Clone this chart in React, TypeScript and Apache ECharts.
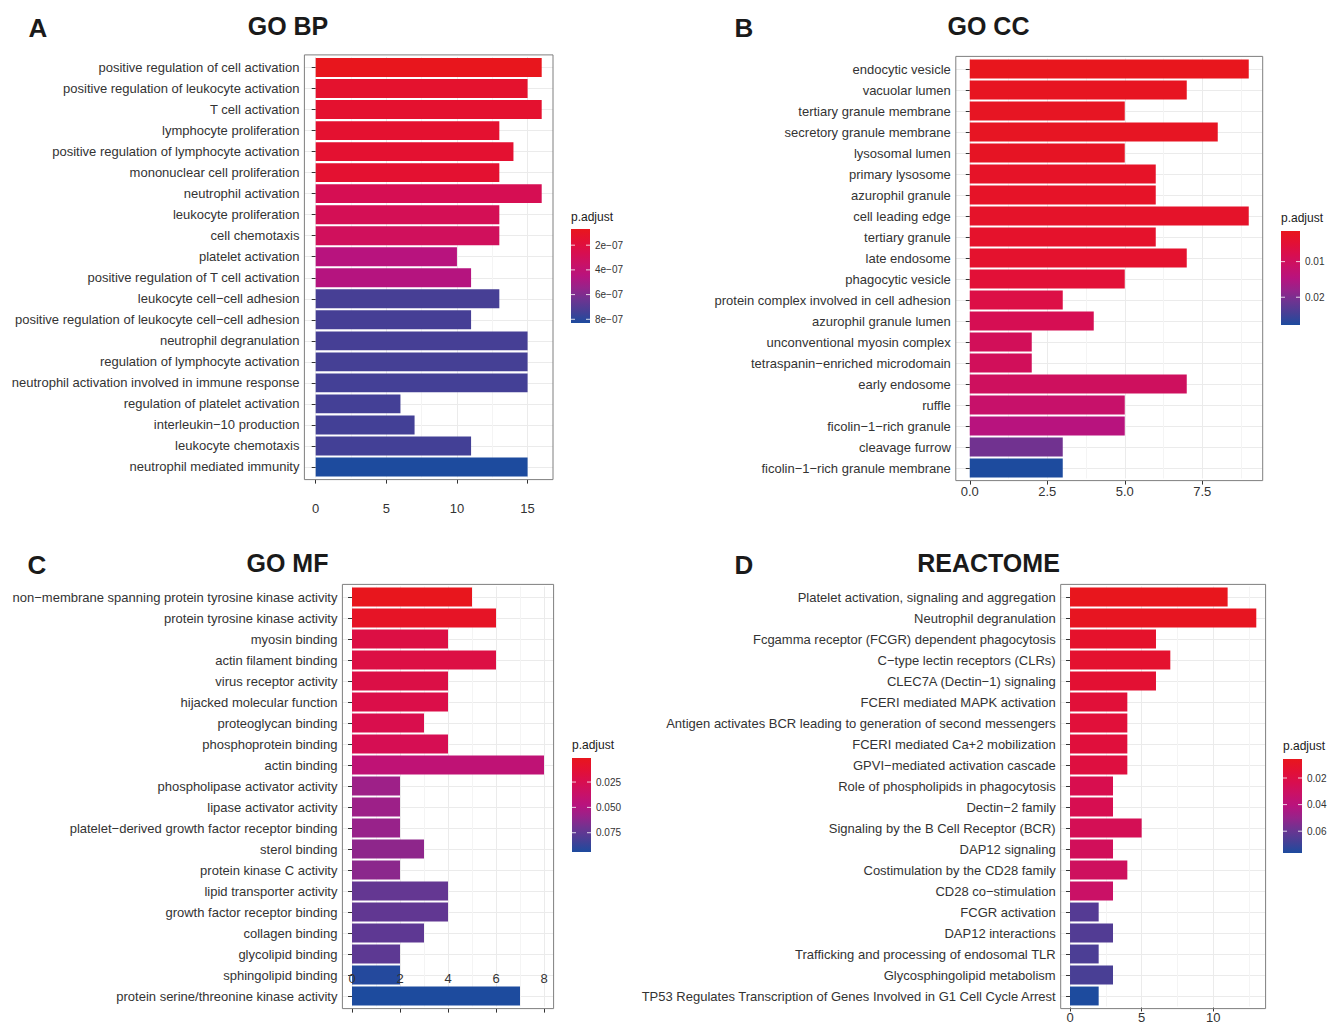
import React, { useEffect, useRef } from "react";
import * as echarts from "echarts";

// ---------- DATA ----------
const bpTerms = [
  "positive regulation of cell activation",
  "positive regulation of leukocyte activation",
  "T cell activation",
  "lymphocyte proliferation",
  "positive regulation of lymphocyte activation",
  "mononuclear cell proliferation",
  "neutrophil activation",
  "leukocyte proliferation",
  "cell chemotaxis",
  "platelet activation",
  "positive regulation of T cell activation",
  "leukocyte cell\u2212cell adhesion",
  "positive regulation of leukocyte cell\u2212cell adhesion",
  "neutrophil degranulation",
  "regulation of lymphocyte activation",
  "neutrophil activation involved in immune response",
  "regulation of platelet activation",
  "interleukin\u221210 production",
  "leukocyte chemotaxis",
  "neutrophil mediated immunity",
];
const bpCounts = [16, 15, 16, 13, 14, 13, 16, 13, 13, 10, 11, 13, 11, 15, 15, 15, 6, 7, 11, 15];
const bpPadj = [
  0.69e-7, 1.4e-7, 1.45e-7, 1.48e-7, 1.5e-7, 1.52e-7, 2.75e-7, 2.82e-7, 3.1e-7, 4.5e-7,
  4.57e-7, 7.35e-7, 7.37e-7, 7.38e-7, 7.4e-7, 7.41e-7, 7.42e-7, 7.43e-7, 7.45e-7, 8.3e-7,
];
const bpXTicks = [0, 5, 10, 15];
const bpXMinor = [2.5, 7.5, 12.5];
const bpLegendTicks = [2e-7, 4e-7, 6e-7, 8e-7];
const bpLegendLabels = ["2e\u221207", "4e\u221207", "6e\u221207", "8e\u221207"];

const ccTerms = [
  "endocytic vesicle",
  "vacuolar lumen",
  "tertiary granule membrane",
  "secretory granule membrane",
  "lysosomal lumen",
  "primary lysosome",
  "azurophil granule",
  "cell leading edge",
  "tertiary granule",
  "late endosome",
  "phagocytic vesicle",
  "protein complex involved in cell adhesion",
  "azurophil granule lumen",
  "unconventional myosin complex",
  "tetraspanin\u2212enriched microdomain",
  "early endosome",
  "ruffle",
  "ficolin\u22121\u2212rich granule",
  "cleavage furrow",
  "ficolin\u22121\u2212rich granule membrane",
];
const ccCounts = [9, 7, 5, 8, 5, 6, 6, 9, 6, 7, 5, 3, 4, 2, 2, 7, 5, 5, 3, 3];
const ccPadj = [
  0.0014, 0.00193, 0.00219, 0.00219, 0.00246, 0.00298, 0.00298, 0.00325, 0.00351, 0.00378,
  0.0051, 0.00694, 0.00853, 0.00932, 0.00958, 0.01011, 0.0117, 0.0146, 0.0209, 0.0278,
];
const ccXTicks = [0, 2.5, 5, 7.5];
const ccXMinor = [1.25, 3.75, 6.25, 8.75];
const ccLegendTicks = [0.01, 0.02];
const ccLegendLabels = ["0.01", "0.02"];

const mfTerms = [
  "non\u2212membrane spanning protein tyrosine kinase activity",
  "protein tyrosine kinase activity",
  "myosin binding",
  "actin filament binding",
  "virus receptor activity",
  "hijacked molecular function",
  "proteoglycan binding",
  "phosphoprotein binding",
  "actin binding",
  "phospholipase activator activity",
  "lipase activator activity",
  "platelet\u2212derived growth factor receptor binding",
  "sterol binding",
  "protein kinase C activity",
  "lipid transporter activity",
  "growth factor receptor binding",
  "collagen binding",
  "glycolipid binding",
  "sphingolipid binding",
  "protein serine/threonine kinase activity",
];
const mfCounts = [5, 6, 4, 6, 4, 4, 3, 4, 8, 2, 2, 2, 3, 2, 4, 4, 3, 2, 2, 7];
const mfPadj = [
  0.0013, 0.0059, 0.0198, 0.0198, 0.0208, 0.0217, 0.0235, 0.0263, 0.043, 0.0569,
  0.057, 0.0588, 0.0616, 0.0625, 0.0736, 0.0745, 0.0755, 0.0756, 0.0921, 0.094,
];
const mfXTicks = [0, 2, 4, 6, 8];
const mfXMinor = [1, 3, 5, 7];
const mfLegendTicks = [0.025, 0.05, 0.075];
const mfLegendLabels = ["0.025", "0.050", "0.075"];

const reTerms = [
  "Platelet activation, signaling and aggregation",
  "Neutrophil degranulation",
  "Fcgamma receptor (FCGR) dependent phagocytosis",
  "C\u2212type lectin receptors (CLRs)",
  "CLEC7A (Dectin\u22121) signaling",
  "FCERI mediated MAPK activation",
  "Antigen activates BCR leading to generation of second messengers",
  "FCERI mediated Ca+2 mobilization",
  "GPVI\u2212mediated activation cascade",
  "Role of phospholipids in phagocytosis",
  "Dectin\u22122 family",
  "Signaling by the B Cell Receptor (BCR)",
  "DAP12 signaling",
  "Costimulation by the CD28 family",
  "CD28 co\u2212stimulation",
  "FCGR activation",
  "DAP12 interactions",
  "Trafficking and processing of endosomal TLR",
  "Glycosphingolipid metabolism",
  "TP53 Regulates Transcription of Genes Involved in G1 Cell Cycle Arrest",
];
const reCounts = [11, 13, 6, 7, 6, 4, 4, 4, 4, 3, 3, 5, 3, 4, 3, 2, 3, 2, 3, 2];
const rePadj = [
  0.0057, 0.0071, 0.0114, 0.0128, 0.0142, 0.0163, 0.0164, 0.017, 0.0184, 0.0234,
  0.0241, 0.0255, 0.0276, 0.029, 0.0319, 0.0644, 0.0651, 0.0665, 0.0672, 0.0764,
];
const reXTicks = [0, 5, 10];
const reXMinor = [2.5, 7.5, 12.5];
const reLegendTicks = [0.02, 0.04, 0.06];
const reLegendLabels = ["0.02", "0.04", "0.06"];

const panelTitles = ["GO BP", "GO CC", "GO MF", "REACTOME"];
const panelLetters = ["A", "B", "C", "D"];
const legendTitle = "p.adjust";

// ---------- STYLE / LAYOUT ----------
const PALETTE = ["#E8161D", "#E31034", "#D80E4F", "#C91167", "#B8137E", "#97238A", "#6D3491", "#473F95", "#1D4B9E"];
const FONT = '"Liberation Sans", Arial, Helvetica, sans-serif';
const TXT = "#333333";

const layout = [
  { left: 304.4, right: 553, top: 54.9, bottom: 479.6, labelMargin: 22, titleX: 288, titleY: 26, letterX: 38, letterY: 28, legX: 571, legTop: 229, legBottom: 323, legTitleY: 217 },
  { left: 955.8, right: 1262.7, top: 56.4, bottom: 480.6, labelMargin: 4, titleX: 988.5, titleY: 26, letterX: 744, letterY: 28, legX: 1281, legTop: 231, legBottom: 325, legTitleY: 218 },
  { left: 342.4, right: 553.6, top: 584.4, bottom: 1008.6, labelMargin: -37, titleX: 287.5, titleY: 563, letterX: 37, letterY: 565, legX: 572, legTop: 758, legBottom: 852, legTitleY: 745 },
  { left: 1060.7, right: 1265.6, top: 584.4, bottom: 1008.6, labelMargin: 3.5, titleX: 988.5, titleY: 563, letterX: 744, letterY: 565, legX: 1283, legTop: 759, legBottom: 853, legTitleY: 746 },
];

const panels = [
  { terms: bpTerms, counts: bpCounts, padj: bpPadj, ticks: bpXTicks, minor: bpXMinor, legTicks: bpLegendTicks, legLabels: bpLegendLabels, fmt: (v: number) => String(v) },
  { terms: ccTerms, counts: ccCounts, padj: ccPadj, ticks: ccXTicks, minor: ccXMinor, legTicks: ccLegendTicks, legLabels: ccLegendLabels, fmt: (v: number) => v.toFixed(1) },
  { terms: mfTerms, counts: mfCounts, padj: mfPadj, ticks: mfXTicks, minor: mfXMinor, legTicks: mfLegendTicks, legLabels: mfLegendLabels, fmt: (v: number) => String(v) },
  { terms: reTerms, counts: reCounts, padj: rePadj, ticks: reXTicks, minor: reXMinor, legTicks: reLegendTicks, legLabels: reLegendLabels, fmt: (v: number) => String(v) },
];

function buildOption() {
  const grid: any[] = [];
  const xAxis: any[] = [];
  const yAxis: any[] = [];
  const series: any[] = [];
  const visualMap: any[] = [];
  const graphic: any[] = [];
  const legW = 19;

  panels.forEach((p, i) => {
    const L = layout[i];
    const n = p.terms.length;
    const pitch = (L.bottom - L.top) / (n + 0.2);
    const inset = 0.1 * pitch;
    const dataGrid = 2 * i;
    const frameGrid = 2 * i + 1;
    grid.push({ left: L.left, top: L.top + inset, width: L.right - L.left, height: n * pitch, containLabel: false });
    grid.push({ left: L.left, top: L.top, width: L.right - L.left, height: L.bottom - L.top, containLabel: false });

    const dmax = Math.max(...p.counts);
    const xmin = -0.05 * dmax;
    const xmax = 1.05 * dmax;
    // main axis (ticks + labels) in the frame grid, on the panel border
    xAxis.push({
      type: "value",
      gridIndex: frameGrid,
      min: xmin,
      max: xmax,
      position: "bottom",
      z: 10,
      axisLine: { show: false },
      minorTick: { show: false },
      axisTick: { show: true, inside: false, customValues: p.ticks, length: 4, lineStyle: { color: TXT, width: 1 } },
      axisLabel: { show: true, customValues: p.ticks, formatter: p.fmt, fontSize: 13, color: TXT, margin: L.labelMargin, fontFamily: FONT },
      splitLine: { show: false },
    });
    // major vertical grid lines
    xAxis.push({
      type: "value",
      gridIndex: dataGrid,
      min: xmin,
      max: xmax,
      position: "bottom",
      z: 0,
      axisLine: { show: false },
      axisTick: { show: false, customValues: p.ticks },
      axisLabel: { show: false, customValues: p.ticks },
      splitLine: { show: true, lineStyle: { color: "#EBEBEB", width: 1 } },
    });
    // minor vertical grid lines
    xAxis.push({
      type: "value",
      gridIndex: dataGrid,
      min: xmin,
      max: xmax,
      position: "top",
      z: 0,
      axisLine: { show: false },
      axisTick: { show: false, customValues: p.minor },
      axisLabel: { show: false, customValues: p.minor },
      splitLine: { show: true, lineStyle: { color: "#F4F4F4", width: 1 } },
    });

    const idx = p.terms.map((_, k) => k);
    yAxis.push({
      type: "category",
      gridIndex: dataGrid,
      data: p.terms,
      inverse: true,
      axisLine: { show: false },
      axisTick: { show: true, alignWithLabel: true, length: 4, lineStyle: { color: TXT, width: 1 } },
      axisLabel: { interval: 0, fontSize: 13, color: TXT, margin: 5, fontFamily: FONT },
      splitLine: { show: false },
    });
    yAxis.push({
      type: "value",
      gridIndex: dataGrid,
      min: -0.5,
      max: n - 0.5,
      position: "right",
      z: 0,
      axisLine: { show: false },
      axisTick: { show: false, customValues: idx },
      axisLabel: { show: false, customValues: idx },
      splitLine: { show: true, lineStyle: { color: "#EBEBEB", width: 1 } },
    });
    yAxis.push({
      type: "value",
      gridIndex: frameGrid,
      min: 0,
      max: 1,
      show: false,
      axisLine: { show: false },
      axisTick: { show: false },
      axisLabel: { show: false },
      splitLine: { show: false },
    });

    series.push({
      type: "bar",
      xAxisIndex: 3 * i + 1,
      yAxisIndex: 3 * i,
      data: p.counts.map((c, k) => [c, p.terms[k], p.padj[k]]),
      encode: { x: 0, y: 1 },
      barCategoryGap: "10%",
      z: 2,
    });

    const pmin = Math.min(...p.padj);
    const pmax = Math.max(...p.padj);
    visualMap.push({
      type: "continuous",
      show: false,
      seriesIndex: i,
      dimension: 2,
      min: pmin,
      max: pmax,
      inRange: { color: PALETTE },
    });

    graphic.push({
      type: "rect",
      z: 100,
      silent: true,
      shape: { x: L.left, y: L.top, width: L.right - L.left, height: L.bottom - L.top },
      style: { fill: "none", stroke: "#7F7F7F", lineWidth: 1 },
    });
    graphic.push({
      type: "text",
      z: 100,
      x: L.titleX,
      y: L.titleY,
      style: { text: panelTitles[i], font: `bold 25px ${FONT}`, fill: "#1A1A1A", textAlign: "center", textVerticalAlign: "middle", align: "center", verticalAlign: "middle" },
    });
    graphic.push({
      type: "text",
      z: 100,
      x: L.letterX,
      y: L.letterY,
      style: { text: panelLetters[i], font: `bold 26px ${FONT}`, fill: "#1A1A1A", textAlign: "center", textVerticalAlign: "middle", align: "center", verticalAlign: "middle" },
    });
    graphic.push({
      type: "text",
      z: 100,
      x: L.legX,
      y: L.legTitleY,
      style: { text: legendTitle, font: `12px ${FONT}`, fill: "#1A1A1A", textAlign: "left", textVerticalAlign: "middle", align: "left", verticalAlign: "middle" },
    });
    graphic.push({
      type: "rect",
      z: 100,
      shape: { x: L.legX, y: L.legTop, width: legW, height: L.legBottom - L.legTop },
      style: {
        fill: new echarts.graphic.LinearGradient(
          0, 0, 0, 1,
          PALETTE.map((c, k) => ({ offset: k / (PALETTE.length - 1), color: c }))
        ),
      },
    });
    p.legTicks.forEach((v, k) => {
      const y = L.legTop + ((v - pmin) / (pmax - pmin)) * (L.legBottom - L.legTop);
      graphic.push({ type: "line", z: 101, shape: { x1: L.legX, y1: y, x2: L.legX + 4, y2: y }, style: { stroke: "rgba(255,255,255,0.8)", lineWidth: 1 } });
      graphic.push({ type: "line", z: 101, shape: { x1: L.legX + legW - 4, y1: y, x2: L.legX + legW, y2: y }, style: { stroke: "rgba(255,255,255,0.8)", lineWidth: 1 } });
      graphic.push({
        type: "text",
        z: 101,
        x: L.legX + legW + 5,
        y,
        style: { text: p.legLabels[k], font: `10px ${FONT}`, fill: TXT, textAlign: "left", textVerticalAlign: "middle", align: "left", verticalAlign: "middle" },
      });
    });
  });

  return {
    animation: false,
    backgroundColor: "#ffffff",
    textStyle: { fontFamily: FONT },
    grid,
    xAxis,
    yAxis,
    visualMap,
    series,
    graphic,
  };
}

export default function App() {
  const ref = useRef<HTMLDivElement>(null);
  useEffect(() => {
    if (!ref.current) return;
    const chart = echarts.init(ref.current, undefined, { renderer: "svg" });
    chart.setOption(buildOption() as any);
    return () => chart.dispose();
  }, []);
  return (
    <div
      ref={ref}
      style={{ position: "absolute", left: 0, top: 0, width: 1327, height: 1024, background: "#fff", overflow: "hidden" }}
    />
  );
}
